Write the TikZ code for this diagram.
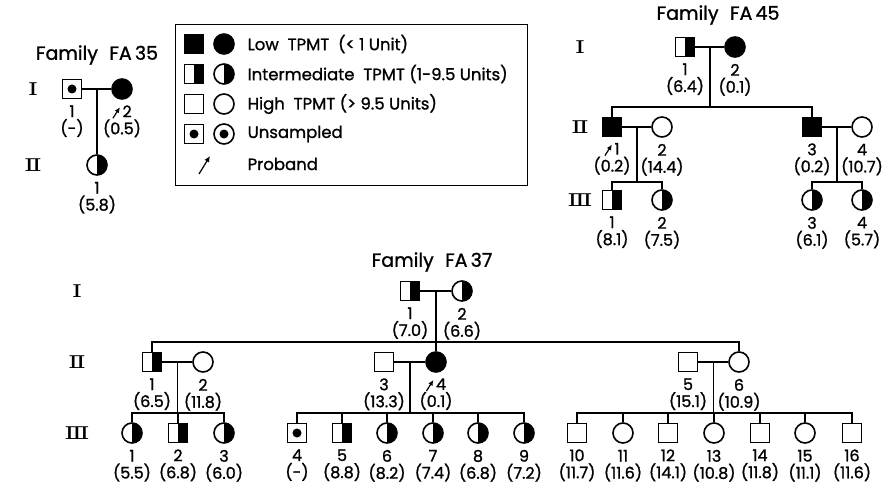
\documentclass[tikz,border=0pt]{standalone}
\usepackage{fontspec}
\setmainfont{Poppins}[FakeBold=1.1]
\newfontfamily\genfont{DejaVu Serif}[FakeStretch=1.5]
\usetikzlibrary{arrows.meta, calc, positioning}

% small proband arrow set before the number
\newcommand{\pb}{\tikz[baseline=0pt]\draw[-{Latex[length=5.5pt,width=5pt]}, line width=1.2pt] (0pt,-1pt) -- (7pt,10pt);\hspace{2pt}}

\begin{document}
\begin{tikzpicture}[x=1pt, y=-1pt, line width=1.3pt, label distance=5.5pt,
	indiv/.style={draw, line width=1.6pt, inner sep=0pt, fill=white},
	sq/.style={indiv, rectangle, minimum size=19pt},
	ci/.style={indiv, circle, minimum size=20pt},
	low/.style={fill=black},
	mid/.style={path picture={\fill[black] (path picture bounding box.north)
			rectangle (path picture bounding box.south east);}},
	uns/.style={path picture={\fill[black] (path picture bounding box.center) circle (4.5pt);}},
	tag/.style={font=\fontsize{16}{17}\selectfont, align=center, inner sep=0pt},
	keytext/.style={font=\fontsize{16.5}{18}\selectfont, anchor=west, inner sep=0pt},
	gen/.style={font=\genfont\fontsize{17.5}{20}\selectfont},
	title/.style={font=\fontsize{19}{21}\selectfont},
	pbarrow/.style={-{Latex[length=6pt,width=5.5pt]}, line width=1.2pt}
	]
	\useasboundingbox[fill=white] (0,0) rectangle (888,484);

	% ---------- Family FA 35 ----------
	\node[title] (t35) at (97,55) {Family\hspace{0.6em}FA\,35};
	\node[gen] (g35a) at (33,89) {Ⅰ};
	\node[gen] (g35b) at (33,165) {Ⅱ};
	\node[sq, uns, label={[tag]below:{1\\(-)}}] (f35a1) at (72,89) {};
	\node[ci, low, label={[tag]below:{\pb 2\\(0.5)}}] (f35a2) at (122,89) {};
	\node[ci, mid, label={[tag]below:{1\\(5.8)}}] (f35b1) at (97,165) {};
	\coordinate (m35) at ($(f35a1)!0.5!(f35a2)$);
	\draw (f35a1) -- (f35a2);
	\draw (m35) -- (f35b1);

	% ---------- legend ----------
	\node[draw, line width=1.4pt, anchor=north west, minimum width=352pt,
		minimum height=161pt] (legend) at (175,24) {};
	\node[sq, low] (k1s) at (194,44) {};
	\node[ci, low] (k1c) at (224,44) {};
	\node[keytext] (k1t) at (247,44) {Low\ \ TPMT\ \ (< 1 Unit)};
	\node[sq, mid] (k2s) at (194,74) {};
	\node[ci, mid] (k2c) at (224,74) {};
	\node[keytext] (k2t) at (247,74) {Intermediate\ \ TPMT (1-9.5 Units)};
	\node[sq] (k3s) at (194,104) {};
	\node[ci] (k3c) at (224,104) {};
	\node[keytext] (k3t) at (247,104) {High\ \ TPMT (> 9.5 Units)};
	\node[sq, uns] (k4s) at (194,134) {};
	\node[ci, uns] (k4c) at (224,134) {};
	\node[keytext] (k4t) at (247,134) {Unsampled};
	\coordinate (k5a) at (199,174);
	\coordinate (k5b) at (210,156);
	\draw[pbarrow] (k5a) -- (k5b);
	\node[keytext] (k5t) at (247,164) {Proband};

	% ---------- Family FA 45 ----------
	\node[title] (t45) at (718,15) {Family\hspace{0.6em}FA\,45};
	\node[gen] (g45a) at (580,47) {Ⅰ};
	\node[gen] (g45b) at (580,127) {Ⅱ};
	\node[gen] (g45c) at (580,200) {Ⅲ};
	\node[sq, mid, label={[tag]below:{1\\(6.4)}}] (f45a1) at (685,47) {};
	\node[ci, low, label={[tag]below:{2\\(0.1)}}] (f45a2) at (735,47) {};
	\node[sq, low, label={[tag]below:{\pb 1\\(0.2)}}] (f45b1) at (612,127) {};
	\node[ci, label={[tag]below:{2\\(14.4)}}] (f45b2) at (662,127) {};
	\node[sq, low, label={[tag]below:{3\\(0.2)}}] (f45b3) at (812,127) {};
	\node[ci, label={[tag]below:{4\\(10.7)}}] (f45b4) at (862,127) {};
	\node[sq, mid, label={[tag]below:{1\\(8.1)}}] (f45c1) at (612,200) {};
	\node[ci, mid, label={[tag]below:{2\\(7.5)}}] (f45c2) at (662,200) {};
	\node[ci, mid, label={[tag]below:{3\\(6.1)}}] (f45c3) at (812,200) {};
	\node[ci, mid, label={[tag]below:{4\\(5.7)}}] (f45c4) at (862,200) {};
	\coordinate (m45a) at ($(f45a1)!0.5!(f45a2)$);
	\coordinate (m45b) at ($(f45b1)!0.5!(f45b2)$);
	\coordinate (m45c) at ($(f45b3)!0.5!(f45b4)$);
	\coordinate (s45b) at (0,107);
	\coordinate (s45c) at (0,182);
	\draw (f45a1) -- (f45a2);
	\draw (f45b1) -- (f45b2);
	\draw (f45b3) -- (f45b4);
	\draw (m45a) -- (m45a |- s45b);
	\foreach \c in {f45b1, f45b3} \draw (m45a |- s45b) -| (\c);
	\draw (m45b) -- (m45b |- s45c);
	\foreach \c in {f45c1, f45c2} \draw (m45b |- s45c) -| (\c);
	\draw (m45c) -- (m45c |- s45c);
	\foreach \c in {f45c3, f45c4} \draw (m45c |- s45c) -| (\c);

	% ---------- Family FA 37 ----------
	\node[title] (t37) at (432,262) {Family\hspace{0.6em}FA\,37};
	\node[gen] (g37a) at (77,291) {Ⅰ};
	\node[gen] (g37b) at (77,362) {Ⅱ};
	\node[gen] (g37c) at (77,433) {Ⅲ};
	\node[sq, mid, label={[tag]below:{1\\(7.0)}}] (f37a1) at (410,291) {};
	\node[ci, mid, label={[tag]below:{2\\(6.6)}}] (f37a2) at (462,291) {};
	\node[sq, mid, label={[tag]below:{1\\(6.5)}}] (f37b1) at (152,362) {};
	\node[ci, label={[tag]below:{2\\(11.8)}}] (f37b2) at (203,362) {};
	\node[sq, label={[tag]below:{3\\(13.3)}}] (f37b3) at (384,362) {};
	\node[ci, low, label={[tag]below:{\pb 4\\(0.1)}}] (f37b4) at (436,362) {};
	\node[sq, label={[tag]below:{5\\(15.1)}}] (f37b5) at (688,362) {};
	\node[ci, label={[tag]below:{6\\(10.9)}}] (f37b6) at (739,362) {};
	% third generation
	\node[ci, mid, label={[tag]below:{1\\(5.5)}}] (f37c1) at (132,433) {};
	\node[sq, mid, label={[tag]below:{2\\(6.8)}}] (f37c2) at (178,433) {};
	\node[ci, mid, label={[tag]below:{3\\(6.0)}}] (f37c3) at (224,433) {};
	\node[sq, uns, label={[tag]below:{4\\(-)}}] (f37c4) at (297,433) {};
	\node[sq, mid, label={[tag]below:{5\\(8.8)}}] (f37c5) at (342,433) {};
	\node[ci, mid, label={[tag]below:{6\\(8.2)}}] (f37c6) at (387,433) {};
	\node[ci, mid, label={[tag]below:{7\\(7.4)}}] (f37c7) at (433,433) {};
	\node[ci, mid, label={[tag]below:{8\\(6.8)}}] (f37c8) at (478,433) {};
	\node[ci, mid, label={[tag]below:{9\\(7.2)}}] (f37c9) at (524,433) {};
	\node[sq, label={[tag]below:{10\\(11.7)}}] (f37c10) at (577,433) {};
	\node[ci, label={[tag]below:{11\\(11.6)}}] (f37c11) at (623,433) {};
	\node[sq, label={[tag]below:{12\\(14.1)}}] (f37c12) at (668,433) {};
	\node[ci, label={[tag]below:{13\\(10.8)}}] (f37c13) at (714,433) {};
	\node[sq, label={[tag]below:{14\\(11.8)}}] (f37c14) at (760,433) {};
	\node[ci, label={[tag]below:{15\\(11.1)}}] (f37c15) at (805,433) {};
	\node[sq, label={[tag]below:{16\\(11.6)}}] (f37c16) at (852,433) {};
	\coordinate (m37a) at ($(f37a1)!0.5!(f37a2)$);
	\coordinate (m37b) at ($(f37b1)!0.5!(f37b2)$);
	\coordinate (m37c) at ($(f37b3)!0.5!(f37b4)$);
	\coordinate (m37d) at ($(f37b5)!0.5!(f37b6)$);
	\coordinate (s37b) at (0,342);
	\coordinate (s37c) at (0,413);
	\draw (f37a1) -- (f37a2);
	\draw (f37b1) -- (f37b2);
	\draw (f37b3) -- (f37b4);
	\draw (f37b5) -- (f37b6);
	\draw (m37a) -- (f37b4);
	\foreach \c in {f37b1, f37b6} \draw (m37a |- s37b) -| (\c);
	\draw (m37b) -- (m37b |- s37c);
	\foreach \c in {f37c1, f37c2, f37c3} \draw (m37b |- s37c) -| (\c);
	\draw (m37c) -- (m37c |- s37c);
	\foreach \c in {f37c4, f37c5, f37c6, f37c7, f37c8, f37c9} \draw (m37c |- s37c) -| (\c);
	\draw (m37d) -- (m37d |- s37c);
	\foreach \c in {f37c10, f37c11, f37c12, f37c13, f37c14, f37c15, f37c16}
		\draw (m37d |- s37c) -| (\c);
\end{tikzpicture}
\end{document}
